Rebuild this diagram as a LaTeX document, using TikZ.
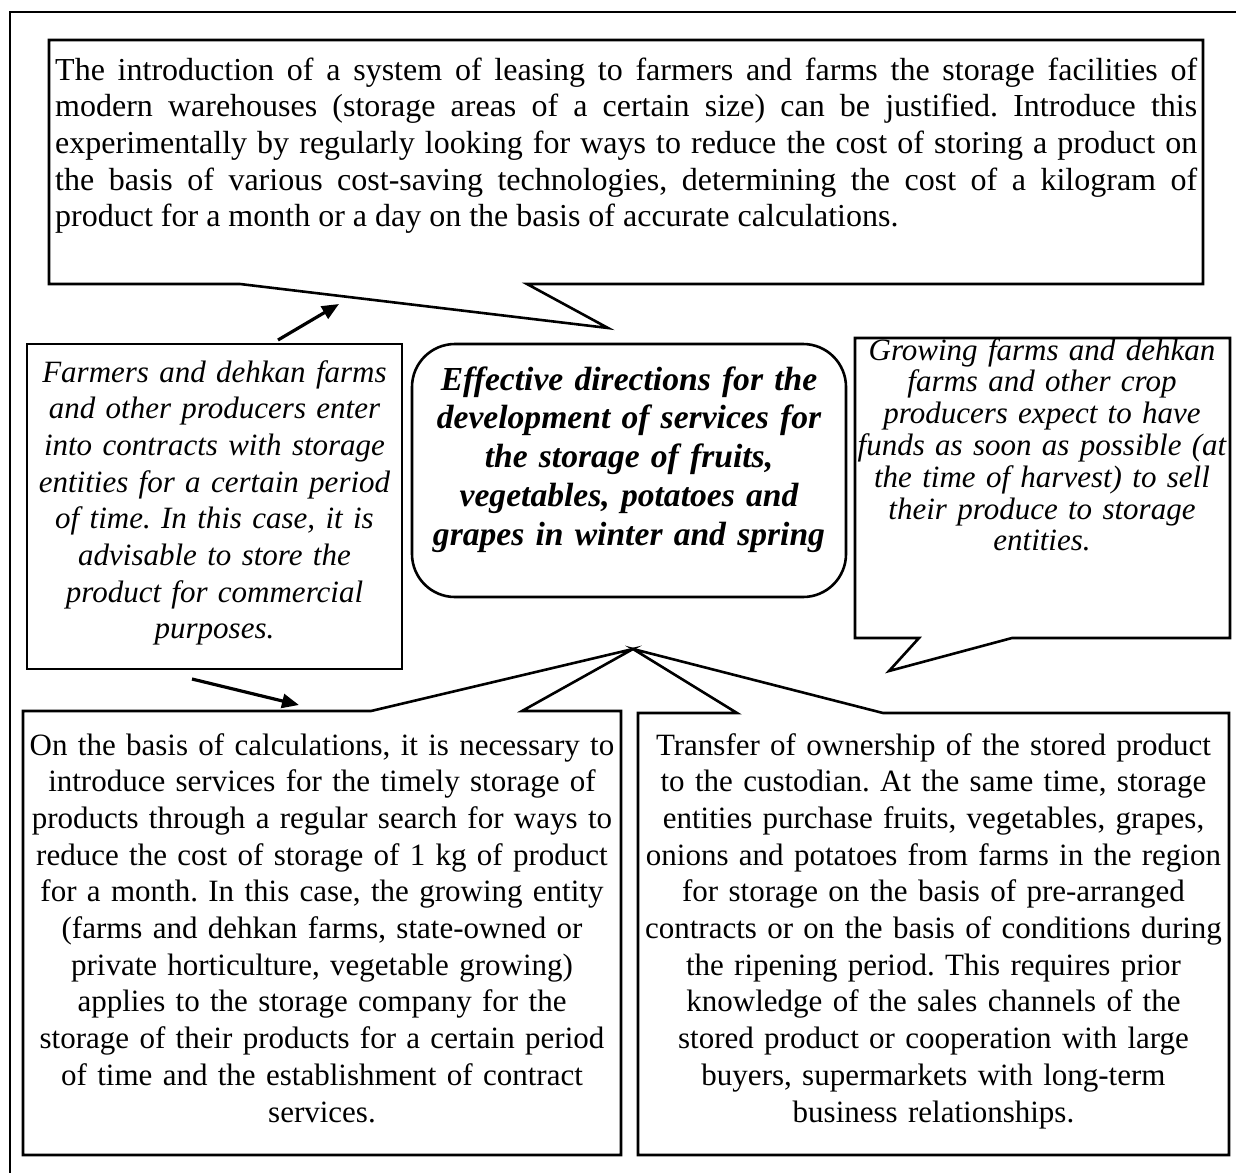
\documentclass[tikz,border=0pt]{standalone}
\usepackage{fontspec}
\setmainfont{Liberation Serif}
\usetikzlibrary{arrows.meta}
\frenchspacing
\begin{document}
\begin{tikzpicture}[x=1pt,y=-1pt,
  frameline/.style={draw=black,line width=2pt},
  callout/.style={draw=black,fill=white,line width=2.6pt,line join=miter,miter limit=20},
  arrowline/.style={draw=black,line width=3.2pt,-{Triangle[length=17pt,width=14pt]}},
  txt/.style={inner sep=0pt,anchor=base,align=center,font=\fontsize{31}{36.7}\selectfont\frenchspacing},
  itxt/.style={txt,font=\fontsize{31}{36.7}\selectfont\itshape\frenchspacing},
]
\useasboundingbox (0,0) rectangle (1236,1172);

% outer frame (right and bottom edges lie outside the picture)
\draw[frameline] (10,1180) -- (10,12) -- (1245,12);

% top callout
\draw[callout] (49,40) -- (1203,40) -- (1203,284) -- (527,284) -- (608,328) -- (240,284) -- (49,284) -- cycle;
\node[txt,anchor=base west,text width=1142pt,align=justify,font=\fontsize{32}{36.7}\selectfont\frenchspacing] (toptext) at (55,80)
{The introduction of a system of leasing to farmers and farms the storage facilities of\linebreak
modern warehouses (storage areas of a certain size) can be justified. Introduce this\linebreak
experimentally by regularly looking for ways to reduce the cost of storing a product on\linebreak
the basis of various cost-saving technologies, determining the cost of a kilogram of\linebreak
product for a month or a day on the basis of accurate calculations.};

% left box
\draw[callout] (27,344) rectangle (402,669);
\node[itxt,text width=480pt] (lefttext) at (214.5,382)
{Farmers and dehkan farms\\
and other producers enter\\
into contracts with storage\\
entities for a certain period\\
of time. In this case, it is\\
advisable to store the\\
product for commercial\\
purposes.};

% centre box
\draw[callout,rounded corners=43pt] (412,344) rectangle (846,597);
\node[txt,text width=520pt,font=\fontsize{33.6}{38.8}\selectfont\bfseries\itshape\frenchspacing] (centertext) at (629,390)
{Effective directions for the\\
development of services for\\
the storage of fruits,\\
vegetables, potatoes and\\
grapes in winter and spring};

% right callout
\draw[callout] (855,338) -- (1230,338) -- (1230,638) -- (1012,638) -- (889,671) -- (919,638) -- (855,638) -- cycle;
\node[txt,text width=480pt,font=\fontsize{31}{31.8}\selectfont\itshape\frenchspacing] (righttext) at (1042,360)
{Growing farms and dehkan\\
farms and other crop\\
producers expect to have\\
funds as soon as possible (at\\
the time of harvest) to sell\\
their produce to storage\\
entities.};

% bottom-left callout
\draw[callout] (23,711) -- (371,711) -- (633,649) -- (522,711) -- (621,711) -- (621,1155) -- (23,1155) -- cycle;
\node[txt,text width=720pt] (bltext) at (322,755)
{On the basis of calculations, it is necessary to\\
introduce services for the timely storage of\\
products through a regular search for ways to\\
reduce the cost of storage of 1 kg of product\\
for a month. In this case, the growing entity\\
(farms and dehkan farms, state-owned or\\
private horticulture, vegetable growing)\\
applies to the storage company for the\\
storage of their products for a certain period\\
of time and the establishment of contract\\
services.};

% bottom-right callout
\draw[callout] (638,713) -- (737,713) -- (633,649) -- (883,713) -- (1229,713) -- (1229,1155) -- (638,1155) -- cycle;
\node[txt,text width=720pt] (brtext) at (933.5,755)
{Transfer of ownership of the stored product\\
to the custodian. At the same time, storage\\
entities purchase fruits, vegetables, grapes,\\
onions and potatoes from farms in the region\\
for storage on the basis of pre-arranged\\
contracts or on the basis of conditions during\\
the ripening period. This requires prior\\
knowledge of the sales channels of the\\
stored product or cooperation with large\\
buyers, supermarkets with long-term\\
business relationships.};

% arrows
\coordinate (a1s) at (278,340);
\coordinate (a1e) at (339,304);
\coordinate (a2s) at (192,679);
\coordinate (a2e) at (299,705);
\draw[arrowline] (a1s) -- (a1e);
\draw[arrowline] (a2s) -- (a2e);
\end{tikzpicture}
\end{document}
